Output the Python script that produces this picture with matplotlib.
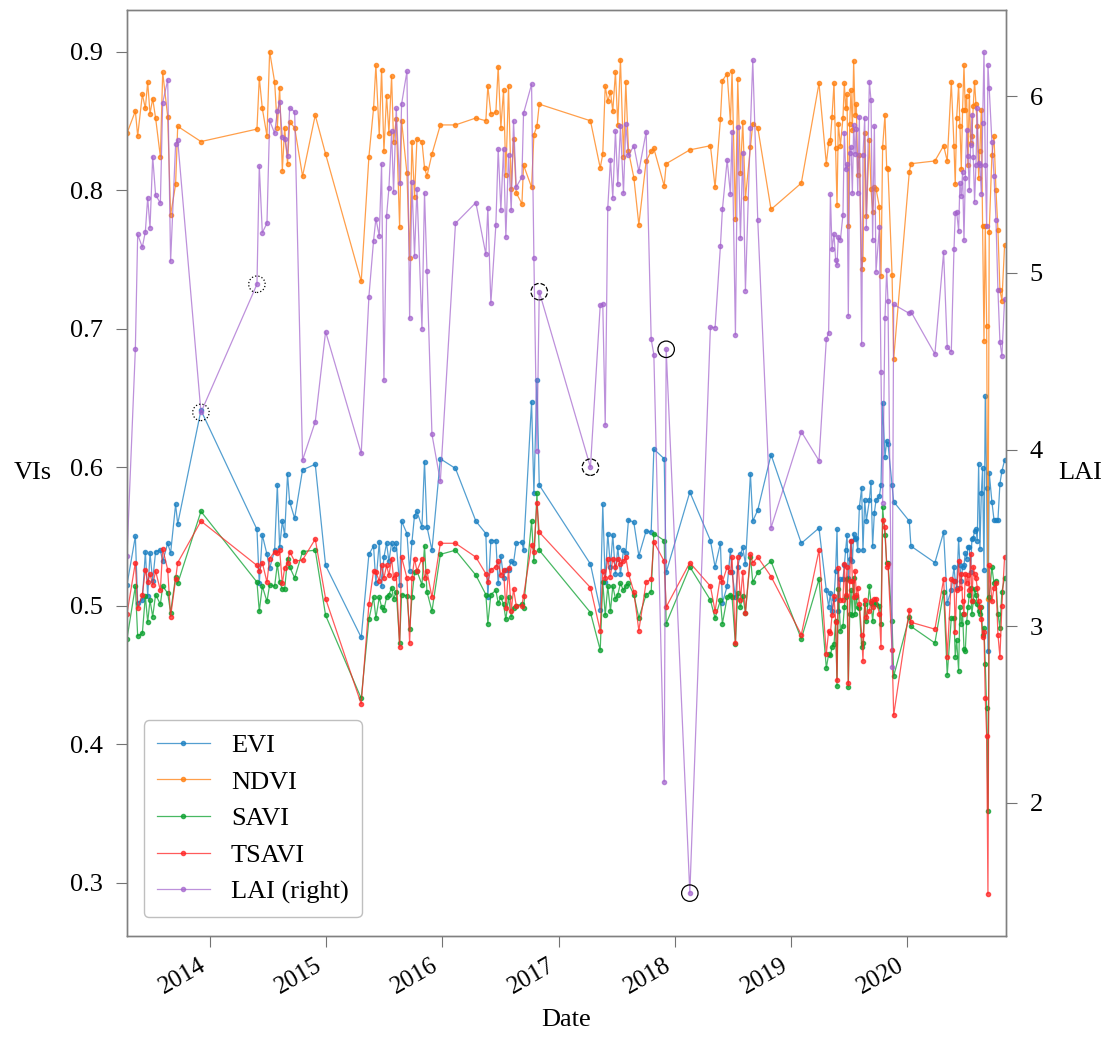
import pandas as pd
import matplotlib
matplotlib.use('Agg')
import matplotlib.pyplot as plt
import matplotlib.dates as mdates

plt.rcParams['font.family'] = ['Liberation Serif', 'DejaVu Serif']

# decimal years
dates = [
    2013.289, 2013.361, 2013.381, 2013.421, 2013.447, 2013.467, 2013.487, 2013.510, 2013.535, 2013.576,
    2013.596, 2013.639, 2013.664, 2013.707, 2013.725, 2013.925, 2014.407, 2014.427, 2014.453, 2014.493,
    2014.516, 2014.559, 2014.582, 2014.602, 2014.625, 2014.645, 2014.670, 2014.688, 2014.731, 2014.799,
    2014.908, 2014.997, 2015.304, 2015.370, 2015.410, 2015.430, 2015.459, 2015.479, 2015.499, 2015.522,
    2015.542, 2015.565, 2015.582, 2015.605, 2015.634, 2015.651, 2015.697, 2015.720, 2015.740, 2015.762,
    2015.783, 2015.826, 2015.848, 2015.869,
    2015.912, 2015.984, 2016.115, 2016.290, 2016.376, 2016.393, 2016.419, 2016.462, 2016.482, 2016.505,
    2016.528, 2016.548, 2016.571, 2016.594, 2016.614, 2016.637, 2016.686, 2016.700, 2016.769, 2016.789,
    2016.815, 2016.835, 2017.273, 2017.357, 2017.379, 2017.400, 2017.422, 2017.445, 2017.465, 2017.488,
    2017.508, 2017.531, 2017.557, 2017.577, 2017.600, 2017.646, 2017.689, 2017.752, 2017.795, 2017.818,
    2017.907, 2017.924, 2018.128, 2018.305, 2018.345, 2018.391, 2018.408, 2018.449,
    2018.477, 2018.491, 2018.520, 2018.540, 2018.563, 2018.583, 2018.606, 2018.649, 2018.669, 2018.712,
    2018.826, 2019.087, 2019.239, 2019.302, 2019.322, 2019.337, 2019.351, 2019.368, 2019.382, 2019.394,
    2019.405, 2019.423, 2019.445, 2019.457, 2019.468, 2019.480, 2019.491, 2019.503, 2019.514, 2019.526,
    2019.537, 2019.549, 2019.560, 2019.572, 2019.586, 2019.606, 2019.617, 2019.632, 2019.646,
    2019.672, 2019.686, 2019.700, 2019.715, 2019.729, 2019.758, 2019.772, 2019.786, 2019.806, 2019.821,
    2019.832, 2019.867, 2019.881, 2020.016, 2020.030, 2020.236, 2020.311, 2020.342, 2020.377,
    2020.400, 2020.411, 2020.423, 2020.440, 2020.451, 2020.463, 2020.474, 2020.486, 2020.497, 2020.509,
    2020.520, 2020.532, 2020.543, 2020.554, 2020.566, 2020.577, 2020.589, 2020.600, 2020.612, 2020.623,
    2020.635, 2020.646, 2020.658, 2020.669, 2020.681, 2020.692, 2020.703, 2020.726, 2020.744, 2020.761,
    2020.778, 2020.795, 2020.812, 2020.835,
]

evi = [
    0.515, 0.550, 0.502, 0.504, 0.539, 0.507, 0.538, 0.518, 0.539, 0.540,
    0.532, 0.545, 0.538, 0.573, 0.559, 0.641, 0.555, 0.516, 0.551, 0.537,
    0.527, 0.540, 0.587, 0.542, 0.561, 0.551, 0.595, 0.575, 0.563, 0.598,
    0.602, 0.529, 0.477, 0.537, 0.543, 0.516, 0.546, 0.514, 0.535, 0.545,
    0.532, 0.545, 0.541, 0.545, 0.515, 0.561, 0.552, 0.525, 0.546, 0.565,
    0.568, 0.557, 0.604, 0.557,
    0.540, 0.606, 0.599, 0.561, 0.552, 0.506, 0.547, 0.547, 0.516, 0.536,
    0.520, 0.526, 0.526, 0.532, 0.531, 0.545, 0.546, 0.540, 0.647, 0.581,
    0.663, 0.587, 0.530, 0.497, 0.573, 0.517, 0.552, 0.528, 0.551, 0.523,
    0.542, 0.523, 0.540, 0.538, 0.562, 0.560, 0.536, 0.554, 0.553, 0.613,
    0.606, 0.524, 0.582, 0.547, 0.528, 0.545, 0.502, 0.514,
    0.540, 0.524, 0.506, 0.528, 0.537, 0.542, 0.530, 0.595, 0.561, 0.569,
    0.609, 0.545, 0.556, 0.511, 0.499, 0.509, 0.496, 0.505, 0.525, 0.555,
    0.496, 0.519, 0.519, 0.529, 0.540, 0.551, 0.520, 0.534, 0.547, 0.532,
    0.552, 0.548, 0.549, 0.540, 0.571, 0.585, 0.540, 0.576, 0.561,
    0.576, 0.589, 0.543, 0.567, 0.576, 0.579, 0.587, 0.646, 0.607, 0.619,
    0.617, 0.587, 0.575, 0.561, 0.543, 0.531, 0.553, 0.502, 0.511,
    0.528, 0.518, 0.513, 0.548, 0.529, 0.518, 0.528, 0.529, 0.538, 0.534,
    0.542, 0.542, 0.524, 0.548, 0.549, 0.554, 0.555, 0.547, 0.602, 0.541,
    0.581, 0.599, 0.526, 0.651, 0.585, 0.467, 0.596, 0.575, 0.562, 0.562,
    0.562, 0.588, 0.597, 0.605,
]

ndvi = [
    0.841, 0.857, 0.839, 0.869, 0.859, 0.878, 0.855, 0.866, 0.852, 0.824,
    0.885, 0.853, 0.782, 0.804, 0.846, 0.835, 0.844, 0.881, 0.859, 0.839,
    0.900, 0.878, 0.845, 0.874, 0.814, 0.845, 0.819, 0.849, 0.845, 0.810,
    0.854, 0.826, 0.734, 0.824, 0.859, 0.890, 0.839, 0.887, 0.828, 0.868,
    0.841, 0.882, 0.835, 0.851, 0.773, 0.850, 0.812, 0.751, 0.835, 0.795,
    0.837, 0.835, 0.816, 0.810,
    0.826, 0.847, 0.847, 0.852, 0.850, 0.875, 0.855, 0.856, 0.889, 0.845,
    0.872, 0.811, 0.875, 0.801, 0.837, 0.798, 0.790, 0.818, 0.802, 0.840,
    0.846, 0.862, 0.850, 0.816, 0.826, 0.875, 0.864, 0.871, 0.857, 0.885,
    0.847, 0.894, 0.824, 0.878, 0.828, 0.809, 0.775, 0.821, 0.828, 0.830,
    0.803, 0.819, 0.829, 0.832, 0.802, 0.851, 0.879, 0.884,
    0.849, 0.886, 0.779, 0.880, 0.812, 0.849, 0.794, 0.831, 0.848, 0.845,
    0.786, 0.805, 0.877, 0.819, 0.834, 0.836, 0.853, 0.877, 0.830, 0.789,
    0.848, 0.832, 0.852, 0.877, 0.859, 0.869, 0.774, 0.848, 0.872, 0.843,
    0.893, 0.854, 0.862, 0.811, 0.825, 0.743, 0.750, 0.841, 0.781,
    0.836, 0.801, 0.784, 0.802, 0.801, 0.788, 0.738, 0.831, 0.854, 0.816,
    0.815, 0.739, 0.678, 0.813, 0.819, 0.821, 0.832, 0.821, 0.878,
    0.832, 0.804, 0.852, 0.876, 0.846, 0.815, 0.858, 0.890, 0.858, 0.868,
    0.818, 0.872, 0.834, 0.839, 0.861, 0.878, 0.862, 0.846, 0.809, 0.828,
    0.858, 0.774, 0.691, 0.774, 0.702, 0.505, 0.770, 0.825, 0.839, 0.800,
    0.771, 0.728, 0.720, 0.760,
]

savi = [
    0.476, 0.514, 0.478, 0.480, 0.507, 0.488, 0.504, 0.492, 0.508, 0.501,
    0.514, 0.509, 0.495, 0.521, 0.516, 0.568, 0.517, 0.496, 0.514, 0.503,
    0.515, 0.514, 0.530, 0.517, 0.512, 0.512, 0.534, 0.528, 0.520, 0.539,
    0.540, 0.493, 0.433, 0.490, 0.506, 0.491, 0.506, 0.499, 0.497, 0.506,
    0.508, 0.513, 0.505, 0.510, 0.473, 0.508, 0.507, 0.483, 0.506, 0.524,
    0.525, 0.515, 0.543, 0.510,
    0.496, 0.537, 0.540, 0.522, 0.508, 0.487, 0.508, 0.511, 0.502, 0.506,
    0.501, 0.490, 0.506, 0.492, 0.498, 0.500, 0.501, 0.498, 0.561, 0.532,
    0.581, 0.540, 0.495, 0.468, 0.517, 0.493, 0.514, 0.496, 0.514, 0.505,
    0.508, 0.516, 0.511, 0.514, 0.516, 0.508, 0.491, 0.508, 0.510, 0.552,
    0.547, 0.487, 0.528, 0.504, 0.491, 0.504, 0.487, 0.506,
    0.508, 0.506, 0.472, 0.509, 0.499, 0.507, 0.495, 0.535, 0.517, 0.524,
    0.532, 0.476, 0.519, 0.455, 0.465, 0.464, 0.470, 0.472, 0.489, 0.442,
    0.512, 0.482, 0.485, 0.499, 0.506, 0.519, 0.441, 0.494, 0.511, 0.493,
    0.520, 0.494, 0.506, 0.499, 0.498, 0.470, 0.473, 0.501, 0.489,
    0.514, 0.502, 0.489, 0.502, 0.501, 0.500, 0.487, 0.571, 0.551, 0.531,
    0.531, 0.489, 0.449, 0.492, 0.485, 0.473, 0.510, 0.450, 0.491,
    0.491, 0.463, 0.475, 0.453, 0.499, 0.487, 0.494, 0.469, 0.467, 0.488,
    0.499, 0.508, 0.513, 0.494, 0.503, 0.512, 0.508, 0.501, 0.496, 0.494,
    0.499, 0.479, 0.484, 0.458, 0.426, 0.352, 0.506, 0.528, 0.516, 0.518,
    0.494, 0.484, 0.510, 0.520,
]

tsavi = [
    0.494, 0.531, 0.498, 0.508, 0.526, 0.517, 0.523, 0.515, 0.525, 0.511,
    0.541, 0.526, 0.492, 0.519, 0.531, 0.561, 0.529, 0.525, 0.531, 0.517,
    0.534, 0.539, 0.538, 0.540, 0.516, 0.527, 0.531, 0.539, 0.532, 0.533,
    0.548, 0.505, 0.429, 0.501, 0.525, 0.524, 0.518, 0.529, 0.520, 0.529,
    0.522, 0.534, 0.520, 0.523, 0.470, 0.535, 0.520, 0.473, 0.520, 0.534,
    0.525, 0.534, 0.520, 0.525,
    0.506, 0.545, 0.545, 0.535, 0.523, 0.517, 0.526, 0.528, 0.532, 0.522,
    0.526, 0.498, 0.527, 0.496, 0.512, 0.500, 0.500, 0.507, 0.544, 0.539,
    0.574, 0.553, 0.513, 0.482, 0.525, 0.520, 0.534, 0.521, 0.534, 0.528,
    0.534, 0.530, 0.532, 0.535, 0.523, 0.510, 0.482, 0.517, 0.519, 0.546,
    0.532, 0.499, 0.531, 0.514, 0.496, 0.521, 0.517, 0.528,
    0.524, 0.535, 0.473, 0.535, 0.504, 0.524, 0.495, 0.537, 0.531, 0.535,
    0.521, 0.479, 0.540, 0.465, 0.482, 0.480, 0.493, 0.507, 0.488, 0.446,
    0.527, 0.504, 0.504, 0.530, 0.508, 0.528, 0.444, 0.518, 0.547, 0.518,
    0.506, 0.525, 0.508, 0.513, 0.501, 0.479, 0.460, 0.504, 0.492,
    0.496, 0.503, 0.499, 0.505, 0.505, 0.494, 0.470, 0.562, 0.557, 0.528,
    0.530, 0.468, 0.421, 0.497, 0.488, 0.483, 0.519, 0.463, 0.519,
    0.518, 0.481, 0.511, 0.532, 0.513, 0.523, 0.503, 0.494, 0.523, 0.516,
    0.522, 0.511, 0.537, 0.503, 0.528, 0.523, 0.520, 0.513, 0.503, 0.499,
    0.490, 0.477, 0.481, 0.433, 0.406, 0.292, 0.529, 0.503, 0.513, 0.516,
    0.479, 0.463, 0.500, 0.535,
]

lai = [
    3.40, 4.569, 5.217, 5.144, 5.233, 5.425, 5.255, 5.657, 5.440, 5.395,
    5.962, 6.091, 5.065, 5.727, 5.751, 4.210, 4.935, 5.604, 5.227, 5.280,
    5.862, 5.789, 5.913, 5.964, 5.768, 5.759, 5.662, 5.934, 5.911, 3.94,
    4.157, 4.667, 3.978, 4.865, 5.182, 5.306, 5.208, 5.615, 4.393, 5.323,
    5.478, 5.80, 5.457, 5.930, 5.506, 5.955, 6.140, 4.742, 5.512, 5.095,
    5.476, 4.684, 5.451, 5.010,
    4.086, 3.82, 5.280, 5.397, 5.104, 5.368, 4.827, 5.270, 5.700, 5.355,
    5.700, 5.202, 5.668, 5.353, 5.859, 5.485, 5.542, 5.902, 6.066, 5.085,
    3.993, 4.893, 3.90, 4.816, 4.825, 4.139, 5.366, 5.640, 5.425, 5.802,
    5.500, 5.830, 5.451, 5.842, 5.664, 5.719, 5.574, 5.798, 4.625, 4.537,
    2.12, 4.567, 1.49, 4.693, 4.689, 5.151, 5.359, 5.638,
    5.444, 5.798, 4.648, 5.827, 5.197, 5.679, 4.899, 5.821, 6.202, 5.297,
    3.557, 4.101, 3.937, 4.623, 4.661, 5.444, 5.132, 5.219, 5.072, 5.044,
    5.204, 5.185, 5.329, 5.793, 5.585, 5.615, 4.755, 5.676, 5.713, 5.451,
    5.834, 5.672, 5.813, 5.449, 5.883, 4.595, 5.664, 5.877, 5.251,
    6.081, 5.977, 5.185, 5.830, 5.006, 5.257, 4.440, 3.70, 4.742, 5.016,
    4.840, 2.771, 4.821, 4.770, 4.780, 4.540, 5.115, 4.580, 4.554,
    5.132, 5.336, 5.346, 5.236, 5.506, 5.436, 5.572, 5.185, 5.538, 5.808,
    5.662, 5.468, 5.723, 5.893, 5.657, 5.402, 5.610, 5.930, 5.619, 5.610,
    5.446, 5.845, 6.247, 5.610, 5.264, 6.175, 6.043, 5.742, 5.55, 5.30,
    4.90, 4.61, 4.53, 4.85,
]

# LAI points marked with circles (date, edge style)
circled = [(2013.925, ':'), (2014.407, ':'), (2016.835, '--'),
           (2017.273, '--'), (2017.924, '-'), (2018.128, '-')]


def to_date(y):
    year = int(y)
    return pd.Timestamp(year=year, month=1, day=1) + pd.Timedelta(days=(y - year) * 365.25)


t = [to_date(d) for d in dates]

fig = plt.figure(figsize=(11.09, 10.37), dpi=100)
ax = fig.add_axes([0.1145, 0.0974, 0.7926, 0.893])
ax2 = ax.twinx()

series = [('EVI', evi, '#1a7fc1'), ('NDVI', ndvi, '#ff7f0e'),
          ('SAVI', savi, '#0aa02e'), ('TSAVI', tsavi, '#ff2424')]
handles = []
for name, vals, col in series:
    h, = ax.plot(t, vals, '-', color=col, lw=0.9, alpha=0.75,
                 marker='o', ms=3, mfc=col, mec=col, label=name)
    handles.append(h)

lai_col = '#a262cc'
h, = ax2.plot(t, lai, '-', color=lai_col, lw=0.9, alpha=0.7,
              marker='o', ms=3, mfc=lai_col, mec=lai_col, label='LAI (right)')
handles.append(h)

for d, ls in circled:
    i = dates.index(d)
    ax2.scatter([t[i]], [lai[i]], s=140, facecolors='none', edgecolors='k',
                linewidths=0.9, linestyles=ls, zorder=5)

ax.set_xlim(to_date(2013.289), to_date(2020.847))
ax.set_ylim(0.2615, 0.930)
ax2.set_ylim(1.2475, 6.487)
ax.set_yticks([0.3, 0.4, 0.5, 0.6, 0.7, 0.8, 0.9])
ax2.set_yticks([2, 3, 4, 5, 6])

ax.xaxis.set_major_locator(mdates.YearLocator())
ax.xaxis.set_major_formatter(mdates.DateFormatter('%Y'))

for a in (ax, ax2):
    a.tick_params(direction='out', length=8, width=0.8, color='0.45',
                  labelsize=19, pad=9)
    for sp in a.spines.values():
        sp.set_color('0.5')
        sp.set_linewidth(1.0)
ax.tick_params(axis='x', labelsize=18, pad=5)
for lbl in ax.get_xticklabels():
    lbl.set_rotation(30)
    lbl.set_ha('right')

ax.set_xlabel('Date', fontsize=19, labelpad=8)
ax.set_ylabel('VIs', fontsize=19, rotation=0, ha='center', va='center')
ax.yaxis.set_label_coords(-0.107, 0.5)
ax2.set_ylabel('LAI', fontsize=19, rotation=0, ha='center', va='center')
ax2.yaxis.set_label_coords(1.084, 0.5)

leg = ax2.legend(handles=handles, loc='lower left', fontsize=19,
                 handlelength=2.0, handletextpad=0.8, labelspacing=0.5,
                 borderpad=0.5, framealpha=1, edgecolor='0.75', fancybox=True,
                 bbox_to_anchor=(0.004, 0.006))

fig.savefig('out.png', dpi=100)
